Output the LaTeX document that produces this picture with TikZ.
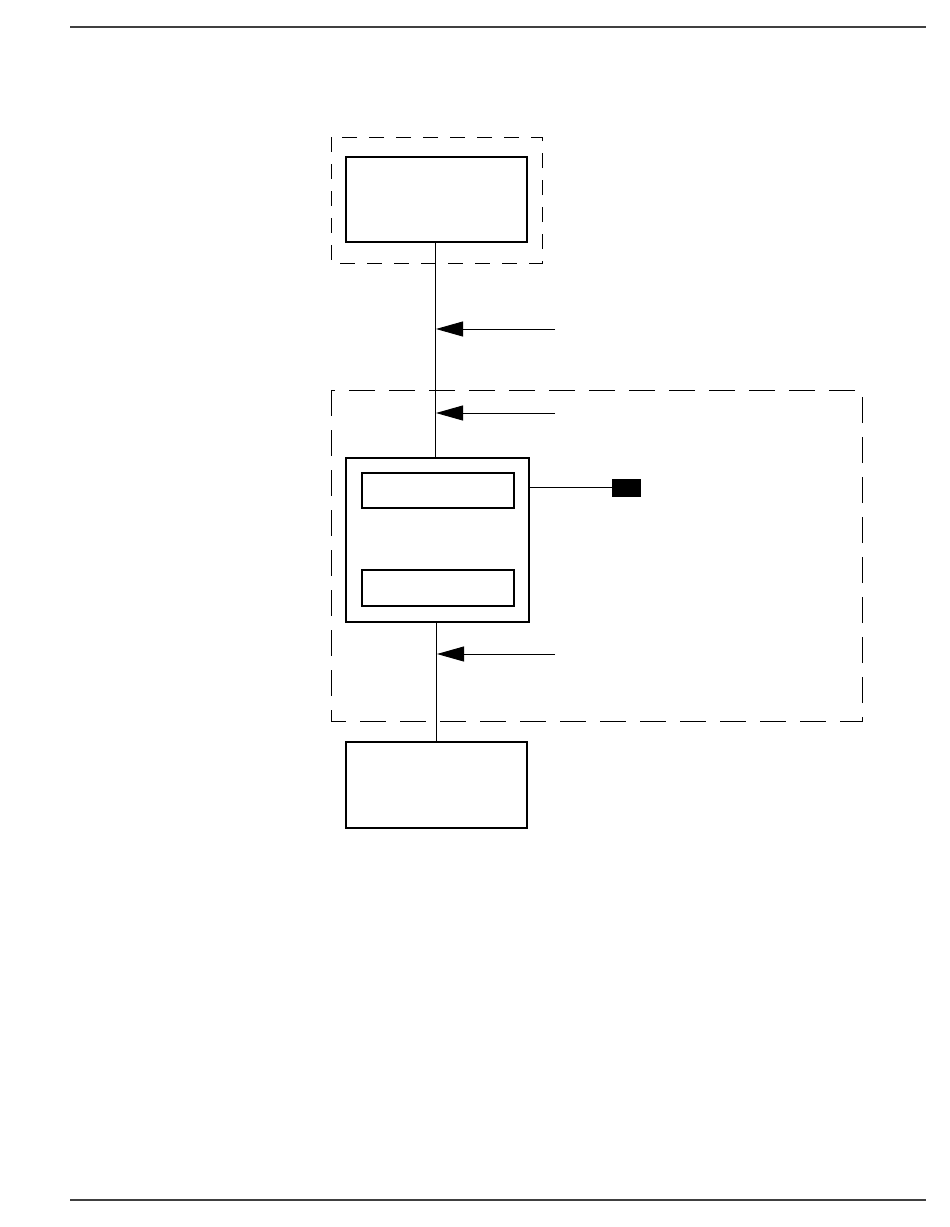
\documentclass[tikz,border=0pt]{standalone}
\usetikzlibrary{arrows.meta}
\begin{document}
\begin{tikzpicture}[x=1pt,y=-1pt,
  rule/.style={line width=1.4pt,draw=black!75},
  grp/.style={draw,line width=0.9pt,dash pattern=on 15pt off 12pt},
  biggrp/.style={draw,line width=0.9pt,dash pattern=on 26pt off 14pt},
  blk/.style={draw,line width=1.8pt,rectangle,inner sep=0pt},
  inner/.style={draw,line width=1.6pt,rectangle,inner sep=0pt},
  wire/.style={line width=0.9pt},
  ptr/.style={line width=0.9pt,-{Triangle[length=27pt,width=15pt]}}]
\useasboundingbox (0,0) rectangle (950,1227);
% page rules
\coordinate (r1a) at (70,27); \coordinate (r1b) at (926,27);
\coordinate (r2a) at (70,1200); \coordinate (r2b) at (926,1200);
\draw[rule] (r1a) -- (r1b);
\draw[rule] (r2a) -- (r2b);
% dashed groups
\draw[grp] (331,137) rectangle (542,263);
\draw[biggrp] (331,390) rectangle (862,721);
% blocks
\node[blk,minimum width=181pt,minimum height=85pt] (A) at (436.5,199.5) {};
\node[blk,minimum width=183pt,minimum height=164pt] (B) at (437.5,540) {};
\node[inner,minimum width=152pt,minimum height=35pt] (B1) at (438,490.5) {};
\node[inner,minimum width=152pt,minimum height=36pt] (B2) at (438,588) {};
\node[blk,minimum width=181pt,minimum height=86pt] (C) at (436.5,785) {};
\node[draw,fill=black,line width=0.8pt,inner sep=0pt,minimum width=28pt,minimum height=17pt] (K) at (626,487.5) {};
% connectors
\draw[wire] (A.south -| 435,0) -- (B.north -| 435,0);
\draw[wire] (B.south -| 436,0) -- (C.north -| 436,0);
\draw[wire] (B.east |- 0,487.5) -- (K.west);
% pointers
\coordinate (p1) at (555,329); \coordinate (q1) at (436,329);
\coordinate (p2) at (555,413); \coordinate (q2) at (436,413);
\coordinate (p3) at (555,654); \coordinate (q3) at (437,654);
\draw[ptr] (p1) -- (q1);
\draw[ptr] (p2) -- (q2);
\draw[ptr] (p3) -- (q3);
\end{tikzpicture}
\end{document}
